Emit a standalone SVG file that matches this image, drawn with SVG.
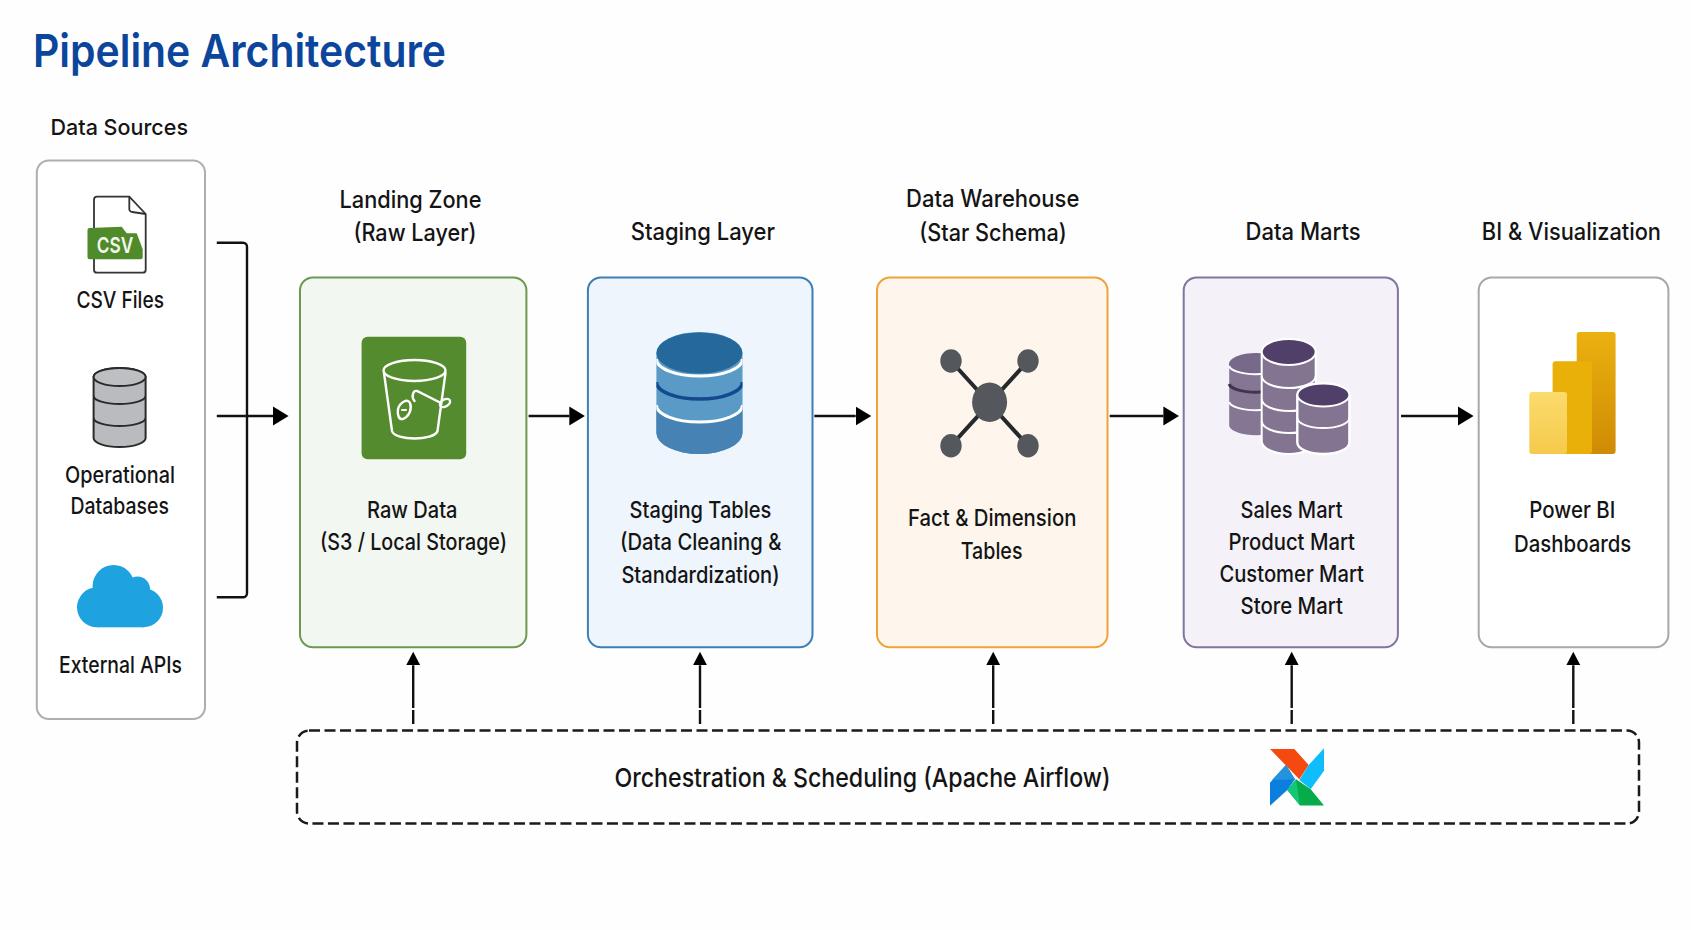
<svg xmlns="http://www.w3.org/2000/svg" width="1691" height="930" viewBox="0 0 1691 930">
<style>
text{font-family:"Inter","Roboto","Liberation Sans",sans-serif;fill:#141414;font-size:23px;font-weight:500}
.h{font-size:24px}
.box{stroke-width:2}
.conn{fill:none;stroke:#111;stroke-width:2.4}
.ctl{fill:none;stroke:#111;stroke-width:2.4;stroke-dasharray:14 2 43}
</style>
<defs>
<marker id="ah" markerUnits="userSpaceOnUse" markerWidth="16" markerHeight="20" refX="0" refY="10" orient="auto"><path d="M0,0.5L15.6,10L0,19.5Z" fill="#000"/></marker>
<marker id="av" markerUnits="userSpaceOnUse" markerWidth="14" markerHeight="15" refX="0" refY="7.5" orient="auto"><path d="M0,0.5L13.5,7.5L0,14.5Z" fill="#000"/></marker>
<linearGradient id="pbr" x1="0" y1="0" x2="0" y2="1"><stop offset="0" stop-color="#ebb10f"/><stop offset="0.45" stop-color="#dea00a"/><stop offset="1" stop-color="#d08b05"/></linearGradient>
<linearGradient id="pbl" x1="0" y1="0" x2="0" y2="1"><stop offset="0" stop-color="#fbdb6c"/><stop offset="1" stop-color="#f5ca4c"/></linearGradient>
<clipPath id="stagingClip"><rect x="656.4" y="330" width="86.1" height="126"/></clipPath>
<clipPath id="dbClip"><rect x="93.6" y="366" width="52" height="84"/></clipPath>
</defs>
<rect width="1691" height="930" fill="#fefefe"/>
<text id="title" x="33" y="66.5" textLength="413" lengthAdjust="spacingAndGlyphs" style="font-size:45px;font-weight:600;fill:#0c459c">Pipeline Architecture</text>

<g id="connectors">
<path class="conn" d="M216.8,242.7H243a4,4 0 0 1 4,4V593.3a4,4 0 0 1-4,4H216.8"/>
<path class="conn" d="M216.8,416H273" marker-end="url(#ah)"/>
<path class="conn" d="M528.6,416H569.3" marker-end="url(#ah)"/>
<path class="conn" d="M814.3,416H855.7" marker-end="url(#ah)"/>
<path class="conn" d="M1109.7,416H1163.4" marker-end="url(#ah)"/>
<path class="conn" d="M1401,416H1458" marker-end="url(#ah)"/>
<path class="ctl" d="M413.2,724V665.2" marker-end="url(#av)"/>
<path class="ctl" d="M700,724V665.2" marker-end="url(#av)"/>
<path class="ctl" d="M993.2,724V665.2" marker-end="url(#av)"/>
<path class="ctl" d="M1291.7,724V665.2" marker-end="url(#av)"/>
<path class="ctl" d="M1573.3,724V665.2" marker-end="url(#av)"/>
</g>

<g id="data-sources">
<text class="h" x="50.5" y="134.7" textLength="137.5" lengthAdjust="spacingAndGlyphs" style="font-size:22px">Data Sources</text>
<rect x="36.8" y="160.5" width="168.2" height="558.5" rx="12" fill="#fff" stroke="#aeaeae" stroke-width="2"/>
<g id="csv-files">
<path d="M97,196.7H129.3L145.7,214V269.7a3,3 0 0 1-3,3H97a3,3 0 0 1-3-3V199.7a3,3 0 0 1 3-3Z" fill="#fff" stroke="#333" stroke-width="1.8"/>
<path d="M129.3,196.7V209a3,3 0 0 0 3,3L145.7,214" fill="none" stroke="#333" stroke-width="1.8"/>
<path d="M89.5,228L121.7,226.7L126.7,233.3H136.7L142.7,249.3V257.3a2,2 0 0 1-2,2H89.5a2,2 0 0 1-2-2V230a2,2 0 0 1 2-2Z" fill="#4f8a2b"/>
<text x="96.7" y="252.7" textLength="36.6" lengthAdjust="spacingAndGlyphs" style="font-size:22px;font-weight:600;fill:#f2f6ee">CSV</text>
<text x="76.4" y="308.4" textLength="87.6" lengthAdjust="spacingAndGlyphs">CSV Files</text>
</g>
<g id="operational-databases">
<path d="M93.6,377A26,9 0 0 1 145.6,377V438A26,9 0 0 1 93.6,438Z" fill="#b9bbbf" stroke="#2a2a2a" stroke-width="2"/>
<ellipse cx="119.6" cy="377" rx="26" ry="9" fill="#bdbfc3" stroke="#2a2a2a" stroke-width="2"/>
<path d="M93.6,396A26,8 0 0 0 145.6,396M93.6,418A26,8 0 0 0 145.6,418" fill="none" stroke="#2a2a2a" stroke-width="2" clip-path="url(#dbClip)"/>
<text x="65" y="483" textLength="110" lengthAdjust="spacingAndGlyphs">Operational</text>
<text x="70.4" y="514.4" textLength="98.6" lengthAdjust="spacingAndGlyphs">Databases</text>
</g>
<g id="external-apis">
<g fill="#1fa3e0"><circle cx="97" cy="607.3" r="20"/><circle cx="113.6" cy="586" r="21"/><circle cx="137.5" cy="589" r="12.5"/><circle cx="143.5" cy="607.8" r="19.5"/><rect x="97" y="588" width="47" height="39.3"/></g>
<text x="59" y="672.6" textLength="123" lengthAdjust="spacingAndGlyphs">External APIs</text>
</g>
</g>

<g id="landing-zone">
<text class="h" x="339.5" y="207.5" textLength="142" lengthAdjust="spacingAndGlyphs">Landing Zone</text>
<text class="h" x="353.5" y="241.3" textLength="123" lengthAdjust="spacingAndGlyphs">(Raw Layer)</text>
<rect class="box" x="300" y="277.5" width="226.4" height="369.8" rx="13" fill="#f3f7f1" stroke="#6a9a52"/>
<rect x="361.6" y="336.7" width="104.6" height="122.6" rx="6" fill="#558b2f"/>
<g fill="none" stroke="#fff" stroke-width="2.4" stroke-linecap="round">
<ellipse cx="414.5" cy="370.5" rx="31" ry="10.5"/>
<path d="M384,373L392,431C395,441 434,441 437.5,431L445.5,373"/>
<path d="M414.5,401C411,397 413,390 417,391L439,402"/>
<ellipse cx="445" cy="403" rx="5.5" ry="3.5" transform="rotate(-30 445 403)"/>
<path d="M398,409C400,402 408,398 410,403C412,408 410,416 403,419C399,420 397,415 398,409Z"/>
<path d="M402,410H406" stroke-width="2"/>
</g>
<text x="367" y="518" textLength="90.5" lengthAdjust="spacingAndGlyphs">Raw Data</text>
<text x="320" y="550" textLength="187" lengthAdjust="spacingAndGlyphs">(S3 / Local Storage)</text>
</g>

<g id="staging-layer">
<text class="h" x="630.7" y="240" textLength="144.3" lengthAdjust="spacingAndGlyphs">Staging Layer</text>
<rect class="box" x="587.9" y="277.5" width="224.6" height="369.8" rx="13" fill="#eef5fc" stroke="#3d7fb5"/>
<path d="M656.4,353A43,21 0 0 1 742.5,353V433A43,21 0 0 1 656.4,433Z" fill="#5a9ac6"/>
<path d="M656.4,407A43,16 0 0 0 742.5,407V433A43,21 0 0 1 656.4,433Z" fill="#4682b4"/>
<ellipse cx="699.4" cy="353" rx="43" ry="20.5" fill="#24689c"/>
<g clip-path="url(#stagingClip)" fill="none">
<path d="M656.4,359A43,17 0 0 0 742.5,359M656.4,405A43,17 0 0 0 742.5,405" stroke="#fff" stroke-width="3"/>
<path d="M656.4,382A43,17 0 0 0 742.5,382" stroke="#14488f" stroke-width="3.5"/>
</g>
<text x="629.6" y="517.7" textLength="141.8" lengthAdjust="spacingAndGlyphs">Staging Tables</text>
<text x="620" y="550" textLength="161.4" lengthAdjust="spacingAndGlyphs">(Data Cleaning &amp;</text>
<text x="621.4" y="582.7" textLength="158.2" lengthAdjust="spacingAndGlyphs">Standardization)</text>
</g>

<g id="data-warehouse">
<text class="h" x="906" y="207" textLength="173.4" lengthAdjust="spacingAndGlyphs">Data Warehouse</text>
<text class="h" x="919.2" y="240.7" textLength="147.6" lengthAdjust="spacingAndGlyphs">(Star Schema)</text>
<rect class="box" x="877" y="277.5" width="230.5" height="369.8" rx="13" fill="#fef6ec" stroke="#eea33a"/>
<path d="M951,361L1028,445.7M1028,361L951,445.7" stroke="#26292c" stroke-width="4" fill="none"/>
<g fill="#54585c"><ellipse cx="989.6" cy="402.3" rx="17.5" ry="19.7"/><ellipse cx="951" cy="361" rx="10.7" ry="11.7"/><ellipse cx="1028" cy="361" rx="10.7" ry="11.7"/><ellipse cx="951" cy="445.7" rx="10.7" ry="11.7"/><ellipse cx="1028" cy="445.7" rx="10.7" ry="11.7"/></g>
<text x="908" y="525.7" textLength="168.4" lengthAdjust="spacingAndGlyphs">Fact &amp; Dimension</text>
<text x="960.7" y="559" textLength="61.8" lengthAdjust="spacingAndGlyphs">Tables</text>
</g>

<g id="data-marts">
<text class="h" x="1245.5" y="240" textLength="115.2" lengthAdjust="spacingAndGlyphs">Data Marts</text>
<rect class="box" x="1183.7" y="277.5" width="214.2" height="369.8" rx="13" fill="#f4f2f8" stroke="#84749e"/>
<g id="mart-icon" stroke="#fff" stroke-width="2">
<path d="M1229.2,364A27,11 0 0 1 1283,364V426A27,10 0 0 1 1229.2,426Z" fill="#857794" stroke="none"/>
<ellipse cx="1256" cy="364" rx="27" ry="11" fill="#77698a" stroke="none"/>
<path d="M1229.2,366A27,9 0 0 0 1283,366M1229.2,402A27,9 0 0 0 1283,402" fill="none"/>
<path d="M1229.2,384A27,9 0 0 0 1283,384" fill="none" stroke="#3f3550" stroke-width="3"/>
<path d="M1261.7,352A27,13 0 0 1 1315.7,352V441A27,13 0 0 1 1261.7,441Z" fill="#837491"/>
<ellipse cx="1288.7" cy="352" rx="27" ry="13" fill="#4f3f69"/>
<path d="M1261.7,376A27,12 0 0 0 1315.7,376M1261.7,399A27,12 0 0 0 1315.7,399M1261.7,421A27,12 0 0 0 1315.7,421" fill="none"/>
<path d="M1297.3,395A26,11.5 0 0 1 1349.4,395V442.5A26,11.5 0 0 1 1297.3,442.5Z" fill="#837491" stroke-width="2.4"/>
<ellipse cx="1323.4" cy="395" rx="26" ry="11.5" fill="#4f3f69"/>
<path d="M1297.3,418A26,10 0 0 0 1349.4,418" fill="none"/>
</g>
<text x="1240.5" y="517.8" textLength="102" lengthAdjust="spacingAndGlyphs">Sales Mart</text>
<text x="1228.5" y="549.8" textLength="126.5" lengthAdjust="spacingAndGlyphs">Product Mart</text>
<text x="1219.4" y="581.7" textLength="144.6" lengthAdjust="spacingAndGlyphs">Customer Mart</text>
<text x="1240.5" y="614.2" textLength="102.4" lengthAdjust="spacingAndGlyphs">Store Mart</text>
</g>

<g id="bi-visualization">
<text class="h" x="1481.8" y="240" textLength="179.2" lengthAdjust="spacingAndGlyphs">BI &amp; Visualization</text>
<rect class="box" x="1478.7" y="277.5" width="189.7" height="369.8" rx="13" fill="#fff" stroke="#a8a8a8"/>
<rect x="1576.7" y="332" width="38.9" height="122" rx="3" fill="url(#pbr)"/>
<rect x="1552.6" y="361.3" width="39.4" height="92.7" rx="3" fill="#e8b008"/>
<rect x="1529.3" y="392" width="37.7" height="62" rx="3" fill="url(#pbl)"/>
<text x="1529.3" y="517.6" textLength="86" lengthAdjust="spacingAndGlyphs">Power BI</text>
<text x="1514" y="551.7" textLength="117.3" lengthAdjust="spacingAndGlyphs">Dashboards</text>
</g>

<g id="orchestration">
<rect x="297" y="730.6" width="1342" height="93" rx="12" fill="none" stroke="#1a1a1a" stroke-width="2.5" stroke-dasharray="11 4.5"/>
<text x="614.5" y="787" textLength="496" lengthAdjust="spacingAndGlyphs" style="font-size:26px">Orchestration &amp; Scheduling (Apache Airflow)</text>
<g id="airflow-icon">
<path d="M1270,749H1294.3L1308.7,765L1299.3,779.3Z" fill="#f4490f"/>
<path d="M1324,748.3V770.7L1310.7,789.3L1299.3,780L1308.7,765Z" fill="#10bdfc"/>
<path d="M1324,805.5H1300L1287.3,790L1296,779.3L1310.7,789.3Z" fill="#07ab4a"/>
<path d="M1287.3,790L1296,779.3L1300,805.5Z" fill="#12c878"/>
<path d="M1270,805.7V782.7L1286,765L1295,779.3L1287.3,790Z" fill="#0a7fe0"/>
<path d="M1272,780L1286,765L1295,779.3Z" fill="#2593dc"/>
</g>
</g>
</svg>
